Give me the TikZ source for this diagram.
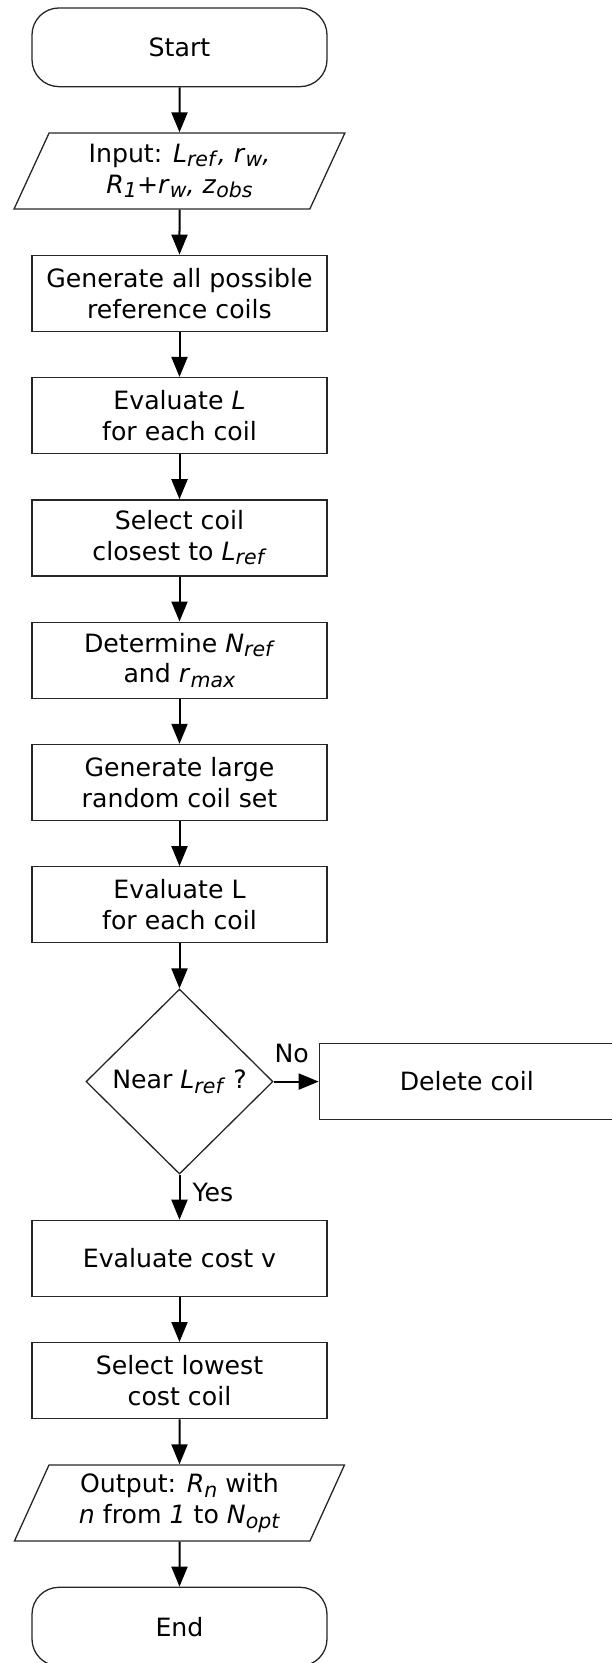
\documentclass[tikz,border=0pt]{standalone}
\usepackage{fontspec}
\setmainfont{DejaVu Sans}
\usepackage{tikz}
\usetikzlibrary{
  shapes.geometric, % Shapes "diamond", "trapezium"
  arrows.meta,      % Tip "Triangle"
  positioning       % Function "of" (e.g. [below=of x])
}
\newcommand{\vs}[2]{\textit{#1}\raisebox{-4.5pt}{\fontsize{20.5pt}{20.5pt}\selectfont\textit{#2}}}
\def\myndist{45pt}
\def\mywidth{295pt}
\tikzset{
  font=\fontsize{25.2pt}{30.7pt}\selectfont,
  >={Triangle[length=20pt,width=16pt]},
  flow/.style={
    ->,
    line width=2pt
  },
  my box/.style={
    draw=black!85,
    line width=1.3pt,
    rectangle,
    minimum width=\mywidth,
    minimum height=76pt,
    inner sep=0pt,
    align=center
  },
  my term/.style={
    my box,
    minimum height=78.7pt,
    rounded corners=27pt
  },
  my io/.style={
    my box,
    trapezium,
    trapezium left angle=65.6,
    trapezium right angle=114.4,
    trapezium stretches=true,
    minimum width=331pt
  },
  my decision/.style={
    draw=black!85,
    line width=1.3pt,
    diamond,
    aspect=1,
    minimum width=187pt,
    minimum height=185pt,
    inner sep=0pt
  }
}

\begin{document}
\begin{tikzpicture}[node distance=\myndist]
\path[use as bounding box,clip] (0,0) rectangle (612pt,-1663pt);
\node[my term] (start) at (179.5pt,-47.3pt) {Start};
\node[my io,below=of start] (input) {Input: \vs{L}{ref}\textit{,} \vs{r}{w}\textit{,}\\\vs{R}{1}+\vs{r}{w}\textit{,} \vs{z}{obs}};
\node[my box,below=of input] (gen) {Generate all possible\\reference coils};
\node[my box,below=of gen] (eval) {Evaluate \textit{L}\\for each coil};
\node[my box,below=of eval] (select) {Select coil\\closest to \vs{L}{ref}};
\node[my box,below=of select] (determine) {Determine \vs{N}{ref}\\and \vs{r}{max}};
\node[my box,below=of determine] (random) {Generate large\\random coil set};
\node[my box,below=of random] (evalset) {Evaluate L\\for each coil};
\node[my decision,below=of evalset] (near) {Near \vs{L}{ref} ?};
\node[my box,right=of near] (delete) {Delete coil};
\node[my box,below=of near] (cost) {Evaluate cost v};
\node[my box,below=of cost] (lowest) {Select lowest\\cost coil};
\node[my io,below=of lowest] (output) {Output: \vs{R}{n} with\\\textit{n} from \textit{1} to \vs{N}{opt}};
\node[my term,below=of output] (end) {End};
\path[flow] (start) edge (input)
            (input) edge (gen)
            (gen) edge (eval)
            (eval) edge (select)
            (select) edge (determine)
            (determine) edge (random)
            (random) edge (evalset)
            (evalset) edge (near)
            (near) edge node[above=18pt,pos=0.4,inner sep=0pt] {No} (delete)
            (near) edge node[right=12pt,pos=0.4,inner sep=0pt] {Yes} (cost)
            (cost) edge (lowest)
            (lowest) edge (output)
            (output) edge (end);
\end{tikzpicture}
\end{document}
